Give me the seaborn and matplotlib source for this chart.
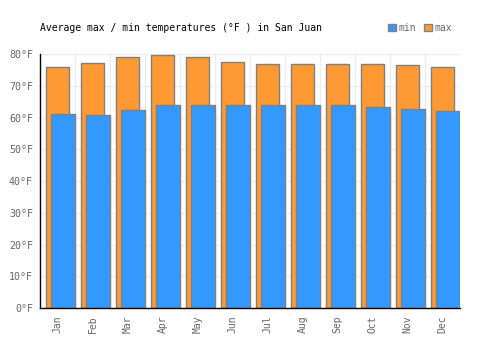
import numpy as np
import pandas as pd
import matplotlib
matplotlib.use("Agg")
import matplotlib.pyplot as plt
import seaborn as sns
from matplotlib.patches import Patch

# Data
months = ['Jan', 'Feb', 'Mar', 'Apr', 'May', 'Jun',
          'Jul', 'Aug', 'Sep', 'Oct', 'Nov', 'Dec']
temp_max = [75.8, 77.1, 79.0, 79.8, 79.0, 77.4, 77.0, 77.0, 77.0, 77.0, 76.4, 75.8]
temp_min = [61.0, 60.7, 62.3, 63.8, 63.8, 63.8, 63.8, 63.8, 63.8, 63.2, 62.6, 61.9]
y_ticks = [0, 10, 20, 30, 40, 50, 60, 70, 80]

orange = '#FF9933'
blue = '#3399FF'
edge = '#808080'
text_grey = '#666666'

sns.set_theme(style="white")
plt.rcParams['font.family'] = ['DejaVu Sans Mono', 'DejaVu Sans']

fig = plt.figure(figsize=(5, 3.5), dpi=100)
ax = fig.add_axes([0.08, 0.12, 0.84, 0.7257])

idx = np.arange(len(months))
df = pd.DataFrame({'pos': idx, 'max': temp_max, 'min': temp_min})

# max bars sit left of centre, min bars overlap them to the right
sns.barplot(x=df['pos'] + 0.005, y=df['max'], native_scale=True, width=0.67,
            color=orange, saturation=1, edgecolor=edge, linewidth=1, ax=ax)
sns.barplot(x=df['pos'] + 0.155, y=df['min'], native_scale=True, width=0.69,
            color=blue, saturation=1, edgecolor=edge, linewidth=1, ax=ax)

ax.set_xlim(-0.5, len(months) - 0.5)
ax.set_ylim(0, 80)
ax.set_xticks(idx)
ax.set_xticklabels(months, rotation=90, fontsize=7, color=text_grey)
ax.set_yticks(y_ticks)
ax.set_yticklabels([f'{t}°F' for t in y_ticks], fontsize=7.2, color=text_grey)
ax.set_xlabel('')
ax.set_ylabel('')

# grid: horizontal at ticks, vertical at category boundaries
for t in y_ticks[1:]:
    ax.axhline(t, color='#eeeeee', linewidth=1, zorder=0)
for b in np.arange(0.5, len(months), 1.0):
    ax.axvline(b, color='#eeeeee', linewidth=1, zorder=0)
ax.set_axisbelow(True)

for s in ['top', 'right']:
    ax.spines[s].set_visible(False)
for s in ['left', 'bottom']:
    ax.spines[s].set_color('black')
    ax.spines[s].set_linewidth(1)
ax.tick_params(axis='both', length=0, pad=5)

fig.text(0.08, 0.92, 'Average max / min temperatures (°F ) in San Juan',
         fontsize=7, color='black', ha='left', va='center')

handles = [Patch(facecolor=blue, edgecolor=edge, label='min'),
           Patch(facecolor=orange, edgecolor=edge, label='max')]
fig.legend(handles=handles, loc='center right', bbox_to_anchor=(0.905, 0.92),
           ncol=2, frameon=False, fontsize=7, handlelength=0.8, handleheight=0.8,
           handletextpad=0.3, columnspacing=0.8, labelcolor=text_grey,
           borderpad=0, borderaxespad=0)

fig.savefig('out.png', dpi=100)
